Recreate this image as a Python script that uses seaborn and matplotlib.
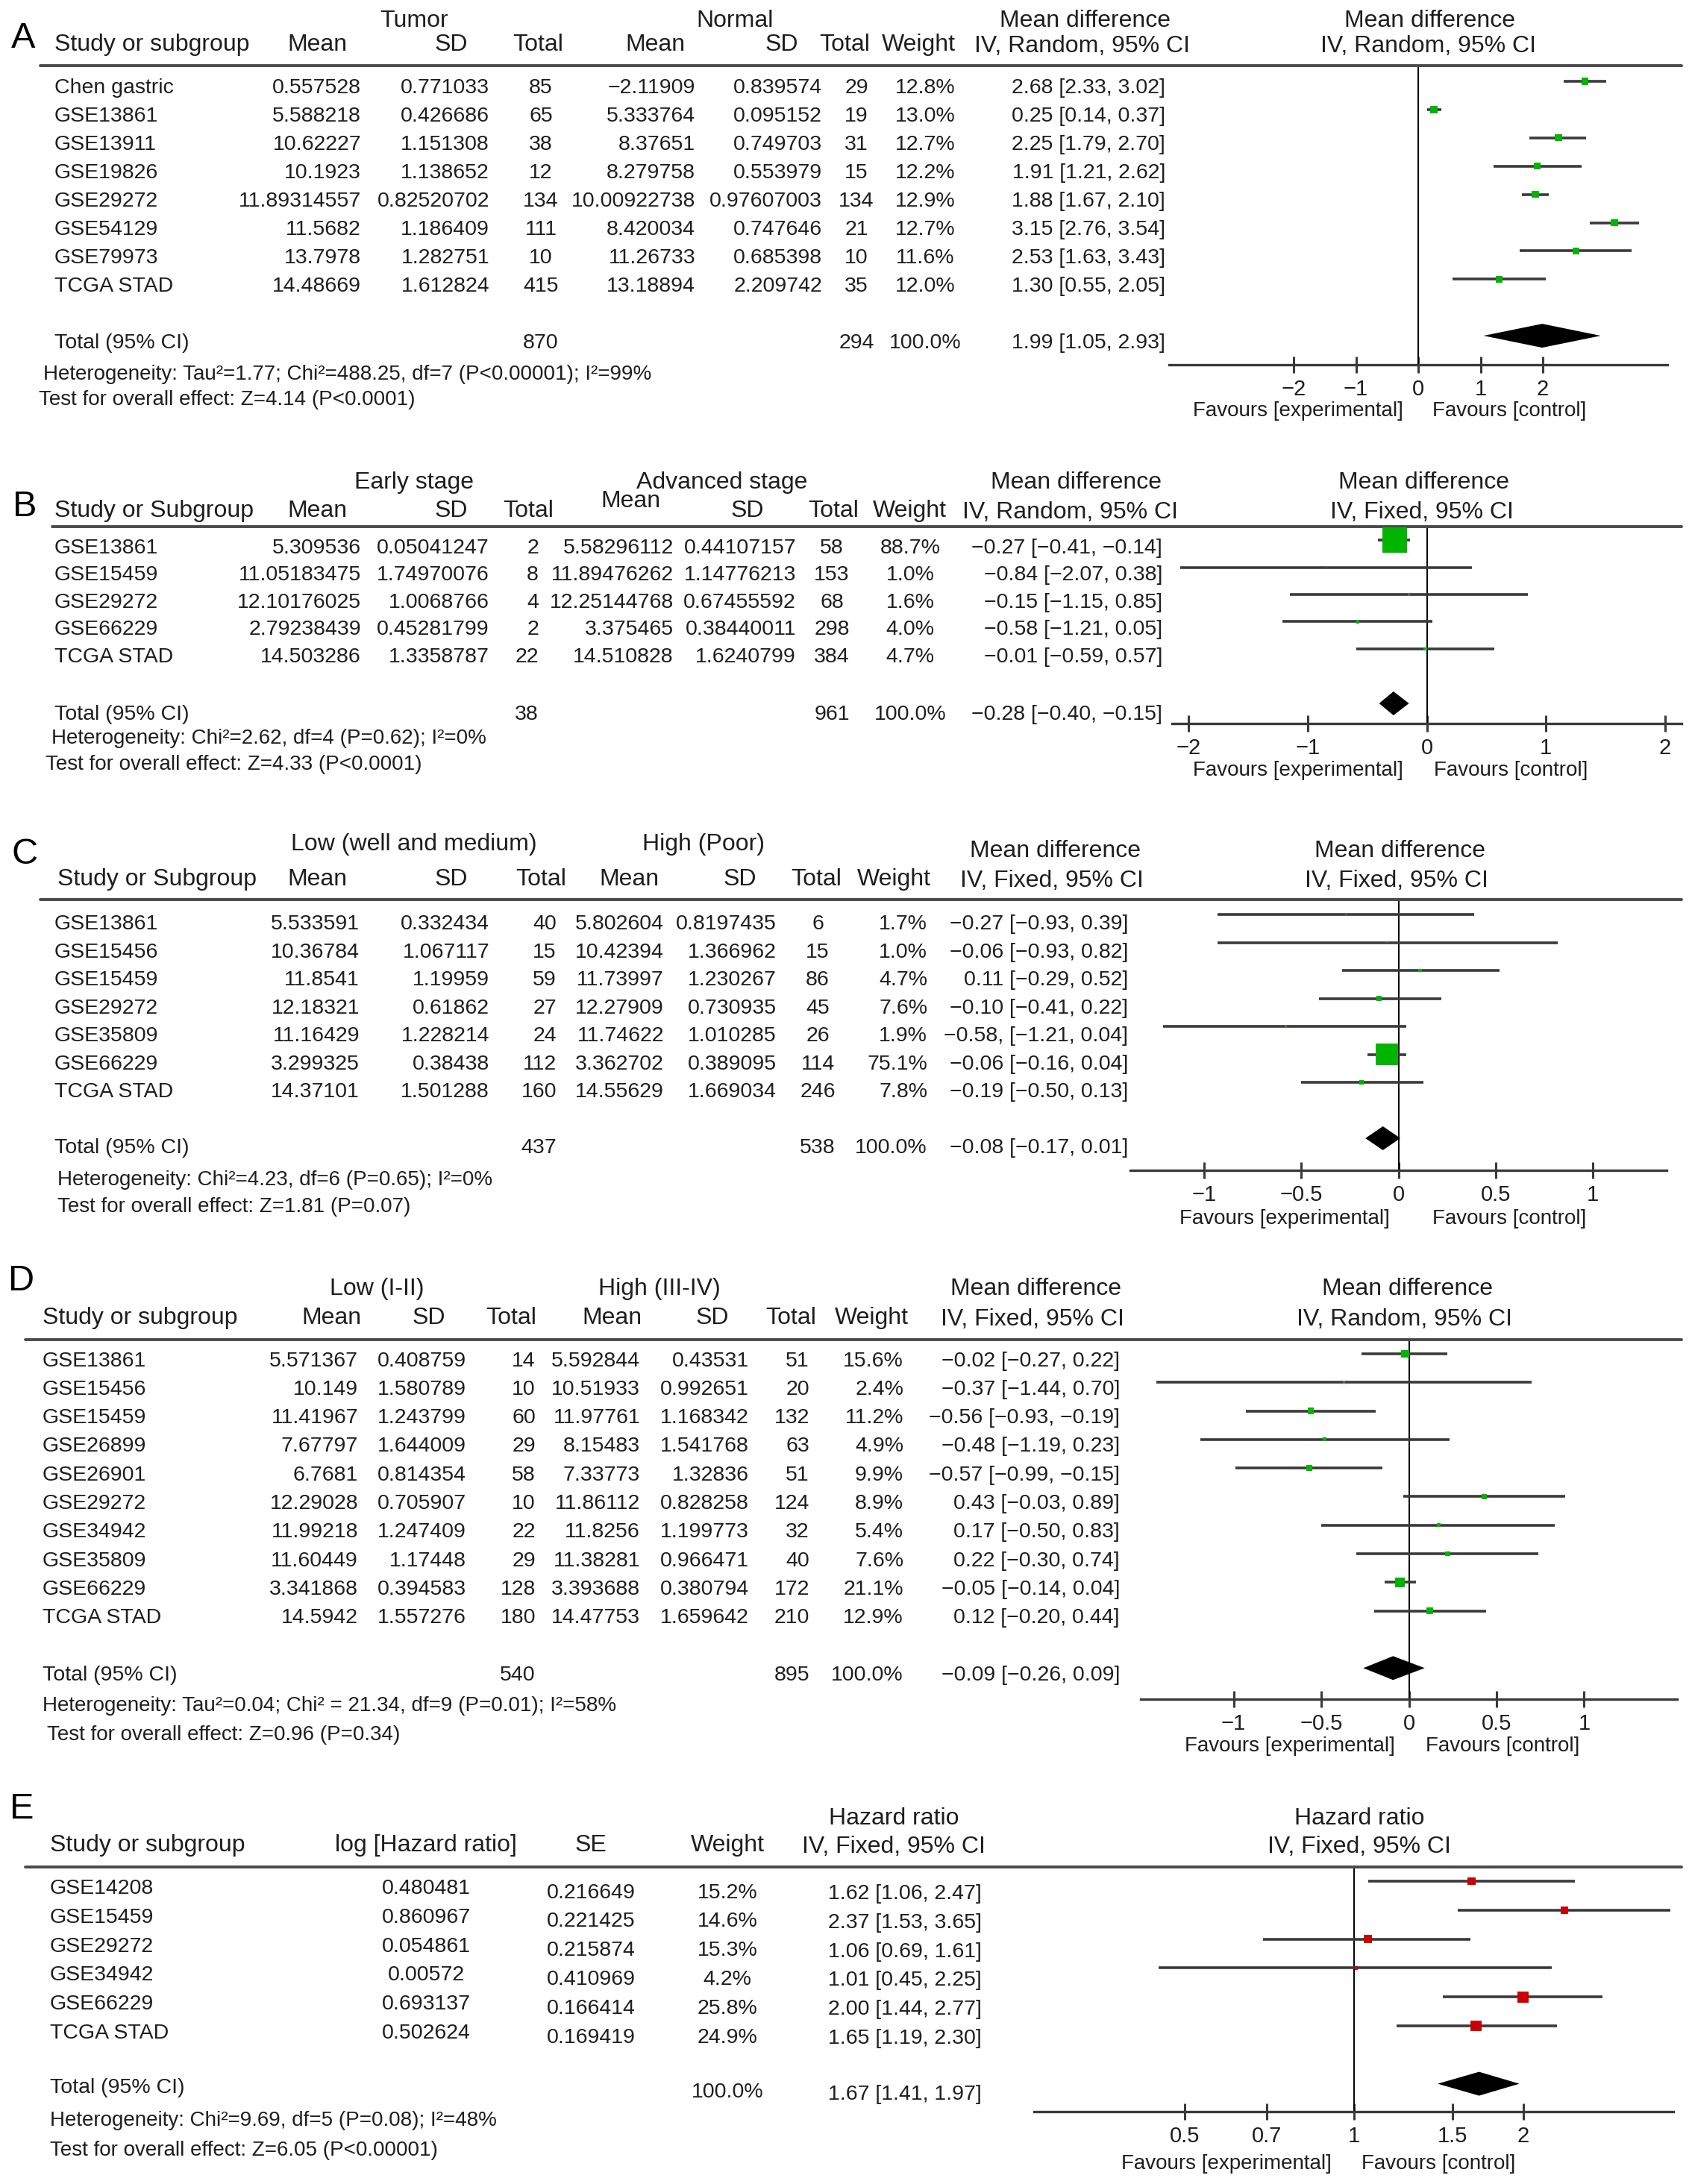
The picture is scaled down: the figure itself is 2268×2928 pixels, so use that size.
import matplotlib
matplotlib.use('Agg')
import matplotlib.pyplot as plt
import matplotlib.transforms as mtransforms
from matplotlib.ticker import FixedLocator, FixedFormatter, NullLocator
import seaborn as sns

sns.set_style('white')
plt.rcParams['font.family'] = ['Liberation Sans', 'DejaVu Sans']

W, H = 2268, 2928
INK = '#1e1e1e'
LINE = '#3a3a3a'
GREEN = '#00b400'
RED = '#cc0000'

# ---------------- Panel A: tumor vs normal ----------------
a_study = ['Chen gastric', 'GSE13861', 'GSE13911', 'GSE19826', 'GSE29272', 'GSE54129', 'GSE79973', 'TCGA STAD']
a_t_mean = [0.557528, 5.588218, 10.62227, 10.1923, 11.89314557, 11.5682, 13.7978, 14.48669]
a_t_sd = [0.771033, 0.426686, 1.151308, 1.138652, 0.82520702, 1.186409, 1.282751, 1.612824]
a_t_n = [85, 65, 38, 12, 134, 111, 10, 415]
a_n_mean = [-2.11909, 5.333764, 8.37651, 8.279758, 10.00922738, 8.420034, 11.26733, 13.18894]
a_n_sd = [0.839574, 0.095152, 0.749703, 0.553979, 0.97607003, 0.747646, 0.685398, 2.209742]
a_n_n = [29, 19, 31, 15, 134, 21, 10, 35]
a_weight = [12.8, 13.0, 12.7, 12.2, 12.9, 12.7, 11.6, 12.0]
a_md = [2.68, 0.25, 2.25, 1.91, 1.88, 3.15, 2.53, 1.30]
a_lo = [2.33, 0.14, 1.79, 1.21, 1.67, 2.76, 1.63, 0.55]
a_hi = [3.02, 0.37, 2.70, 2.62, 2.10, 3.54, 3.43, 2.05]
a_total = [1.99, 1.05, 2.93]
a_total_n = [870, 294]
a_het = 'Heterogeneity: Tau²=1.77; Chi²=488.25, df=7 (P<0.00001); I²=99%'
a_test = 'Test for overall effect: Z=4.14 (P<0.0001)'

# ---------------- Panel B: early vs advanced stage ----------------
b_study = ['GSE13861', 'GSE15459', 'GSE29272', 'GSE66229', 'TCGA STAD']
b_e_mean = [5.309536, 11.05183475, 12.10176025, 2.79238439, 14.503286]
b_e_sd = [0.05041247, 1.74970076, 1.0068766, 0.45281799, 1.3358787]
b_e_n = [2, 8, 4, 2, 22]
b_a_mean = [5.58296112, 11.89476262, 12.25144768, 3.375465, 14.510828]
b_a_sd = [0.44107157, 1.14776213, 0.67455592, 0.38440011, 1.6240799]
b_a_n = [58, 153, 68, 298, 384]
b_weight = [88.7, 1.0, 1.6, 4.0, 4.7]
b_md = [-0.27, -0.84, -0.15, -0.58, -0.01]
b_lo = [-0.41, -2.07, -1.15, -1.21, -0.59]
b_hi = [-0.14, 0.38, 0.85, 0.05, 0.57]
b_total = [-0.28, -0.40, -0.15]
b_total_n = [38, 961]
b_het = 'Heterogeneity: Chi²=2.62, df=4 (P=0.62); I²=0%'
b_test = 'Test for overall effect: Z=4.33 (P<0.0001)'

# ---------------- Panel C: differentiation ----------------
c_study = ['GSE13861', 'GSE15456', 'GSE15459', 'GSE29272', 'GSE35809', 'GSE66229', 'TCGA STAD']
c_l_mean = [5.533591, 10.36784, 11.8541, 12.18321, 11.16429, 3.299325, 14.37101]
c_l_sd = [0.332434, 1.067117, 1.19959, 0.61862, 1.228214, 0.38438, 1.501288]
c_l_n = [40, 15, 59, 27, 24, 112, 160]
c_h_mean = [5.802604, 10.42394, 11.73997, 12.27909, 11.74622, 3.362702, 14.55629]
c_h_sd = [0.8197435, 1.366962, 1.230267, 0.730935, 1.010285, 0.389095, 1.669034]
c_h_n = [6, 15, 86, 45, 26, 114, 246]
c_weight = [1.7, 1.0, 4.7, 7.6, 1.9, 75.1, 7.8]
c_md = [-0.27, -0.06, 0.11, -0.10, -0.58, -0.06, -0.19]
c_lo = [-0.93, -0.93, -0.29, -0.41, -1.21, -0.16, -0.50]
c_hi = [0.39, 0.82, 0.52, 0.22, 0.04, 0.04, 0.13]
c_sep = ['', '', '', '', ',', '', '']
c_total = [-0.08, -0.17, 0.01]
c_total_n = [437, 538]
c_het = 'Heterogeneity: Chi²=4.23, df=6 (P=0.65); I²=0%'
c_test = 'Test for overall effect: Z=1.81 (P=0.07)'

# ---------------- Panel D: TNM stage ----------------
d_study = ['GSE13861', 'GSE15456', 'GSE15459', 'GSE26899', 'GSE26901', 'GSE29272', 'GSE34942',
           'GSE35809', 'GSE66229', 'TCGA STAD']
d_l_mean = [5.571367, 10.149, 11.41967, 7.67797, 6.7681, 12.29028, 11.99218, 11.60449, 3.341868, 14.5942]
d_l_sd = [0.408759, 1.580789, 1.243799, 1.644009, 0.814354, 0.705907, 1.247409, 1.17448, 0.394583, 1.557276]
d_l_n = [14, 10, 60, 29, 58, 10, 22, 29, 128, 180]
d_h_mean = [5.592844, 10.51933, 11.97761, 8.15483, 7.33773, 11.86112, 11.8256, 11.38281, 3.393688, 14.47753]
d_h_sd = [0.43531, 0.992651, 1.168342, 1.541768, 1.32836, 0.828258, 1.199773, 0.966471, 0.380794, 1.659642]
d_h_n = [51, 20, 132, 63, 51, 124, 32, 40, 172, 210]
d_weight = [15.6, 2.4, 11.2, 4.9, 9.9, 8.9, 5.4, 7.6, 21.1, 12.9]
d_md = [-0.02, -0.37, -0.56, -0.48, -0.57, 0.43, 0.17, 0.22, -0.05, 0.12]
d_lo = [-0.27, -1.44, -0.93, -1.19, -0.99, -0.03, -0.50, -0.30, -0.14, -0.20]
d_hi = [0.22, 0.70, -0.19, 0.23, -0.15, 0.89, 0.83, 0.74, 0.04, 0.44]
d_total = [-0.09, -0.26, 0.09]
d_total_n = [540, 895]
d_het = 'Heterogeneity: Tau²=0.04; Chi² = 21.34, df=9 (P=0.01); I²=58%'
d_test = 'Test for overall effect: Z=0.96 (P=0.34)'

# ---------------- Panel E: hazard ratio ----------------
e_study = ['GSE14208', 'GSE15459', 'GSE29272', 'GSE34942', 'GSE66229', 'TCGA STAD']
e_loghr = [0.480481, 0.860967, 0.054861, 0.00572, 0.693137, 0.502624]
e_se = [0.216649, 0.221425, 0.215874, 0.410969, 0.166414, 0.169419]
e_weight = [15.2, 14.6, 15.3, 4.2, 25.8, 24.9]
e_hr = [1.62, 2.37, 1.06, 1.01, 2.00, 1.65]
e_lo = [1.06, 1.53, 0.69, 0.45, 1.44, 1.19]
e_hi = [2.47, 3.65, 1.61, 2.25, 2.77, 2.30]
e_total = [1.67, 1.41, 1.97]
e_het = 'Heterogeneity: Chi²=9.69, df=5 (P=0.08); I²=48%'
e_test = 'Test for overall effect: Z=6.05 (P<0.00001)'

md_ticks = [-2, -1, 0, 1, 2]
md_ticklabels = ['−2', '−1', '0', '1', '2']
small_ticks = [-1, -0.5, 0, 0.5, 1]
small_ticklabels = ['−1', '−0.5', '0', '0.5', '1']
hr_ticks = [0.5, 0.7, 1, 1.5, 2]
hr_ticklabels = ['0.5', '0.7', '1', '1.5', '2']

BODY = 20.5
HEAD = 23
NOTE = 20


def fx(px):
    return px / W


def fy(py):
    return 1 - py / H


def num(v):
    return str(v).replace('-', '−')


def f2(v):
    return f'{v:.2f}'.replace('-', '−')


def ci_text(m, lo, hi, sep=''):
    return f'{f2(m)}{sep} [{f2(lo)}, {f2(hi)}]'


def pct(w):
    return f'{w:.1f}%'


fig = plt.figure(figsize=(W / 100, H / 100), dpi=100)
fig.patch.set_facecolor('white')


def draw_panel(p):
    top, bottom, row0, pitch = p['top'], p['bottom'], p['row0'], p['pitch']
    ax = fig.add_axes([fx(p['xl']), fy(bottom), fx(p['xr']) - fx(p['xl']), (bottom - top) / H])
    ax.patch.set_alpha(0)
    y_top = (top - row0) / pitch
    y_bot = (bottom - row0) / pitch
    if p.get('log'):
        ax.set_xscale('log')
    ax.set_xlim(*p['xlim'])
    ax.set_ylim(y_bot, y_top)
    blend = mtransforms.blended_transform_factory(fig.transFigure, ax.transData)

    rows = list(range(len(p['est'])))
    # confidence intervals and weighted boxes
    ax.hlines(rows, p['lo'], p['hi'], color=LINE, lw=2.6, zorder=2)
    sizes = [(1.8 * w ** 0.65 * 0.72) ** 2 for w in p['w']]
    sns.scatterplot(x=p['est'], y=rows, s=sizes, marker='s', color=p['color'],
                    linewidth=0, ax=ax, legend=False, zorder=3)
    # pooled diamond
    m, lo, hi = p['total']
    r = p['total_row']
    h = 16 / pitch
    ax.fill([lo, m, hi, m], [r, r - h, r, r + h], color='black', zorder=3, lw=0)

    ax.axvline(p['null'], color='black', lw=1.4, zorder=1)
    ax.plot([fx(p['line_x0']), fx(2254)], [y_top, y_top], transform=blend, clip_on=False,
            color='#4a4a4a', lw=2.8)

    for s in ['left', 'right', 'top']:
        ax.spines[s].set_visible(False)
    ax.spines['bottom'].set_color(LINE)
    ax.spines['bottom'].set_linewidth(2.4)
    ax.set_yticks([])
    ax.xaxis.set_major_locator(FixedLocator(p['ticks']))
    ax.xaxis.set_major_formatter(FixedFormatter(p['ticklabels']))
    ax.xaxis.set_minor_locator(NullLocator())
    ax.tick_params(axis='x', direction='inout', length=16, width=2.2, color=LINE,
                   labelsize=21, labelcolor=INK, pad=6, bottom=True)
    ax.set_xlabel('')
    ax.set_ylabel('')

    # table body
    for values, x, ha, off in p['cols']:
        for i, s in enumerate(values):
            ax.text(fx(x), i + off, s, transform=blend, ha=ha, va='center', fontsize=BODY, color=INK)
    for s, x, ha, off in p['totals']:
        ax.text(fx(x), r + off, s, transform=blend, ha=ha, va='center', fontsize=BODY, color=INK)

    # headers, notes, favours labels
    lx, ly = p['letter']
    fig.text(fx(lx), fy(ly), p['name'], ha='left', va='center', fontsize=35, color='black')
    for s, x, y, ha in p['headers']:
        fig.text(fx(x), fy(y), s, ha=ha, va='center', fontsize=HEAD, color=INK)
    for s, x, y in p['notes']:
        fig.text(fx(x), fy(y), s, ha='left', va='center', fontsize=NOTE, color=INK)
    fvy = p['fav_y']
    fig.text(fx(p['fav_x'][0]), fy(fvy), 'Favours [experimental]', ha='right', va='center',
             fontsize=NOTE, color=INK)
    fig.text(fx(p['fav_x'][1]), fy(fvy), 'Favours [control]', ha='left', va='center',
             fontsize=NOTE, color=INK)


C, L, R = 'center', 'left', 'right'

panel_a = dict(
    name='A', letter=(15, 52), top=88, bottom=489, row0=109, pitch=37.9, line_x0=54,
    xl=1567, xr=2235, xlim=(-4, 4), ticks=md_ticks, ticklabels=md_ticklabels, null=0,
    est=a_md, lo=a_lo, hi=a_hi, w=a_weight, color=GREEN, total=a_total, total_row=9,
    headers=[('Tumor', 555, 28, C), ('Normal', 985, 28, C),
             ('Study or subgroup', 73, 60, L), ('Mean', 425, 60, C), ('SD', 627, 60, R),
             ('Total', 721, 60, C), ('Mean', 878, 60, C), ('SD', 1070, 60, R),
             ('Total', 1132, 60, C), ('Weight', 1231, 60, C),
             ('Mean difference', 1455, 28, C), ('IV, Random, 95% CI', 1451, 62, C),
             ('Mean difference', 1916, 28, C), ('IV, Random, 95% CI', 1914, 62, C)],
    cols=[(a_study, 73, L, 0.25), ([num(v) for v in a_t_mean], 484, R, 0.25),
          ([num(v) for v in a_t_sd], 656, R, 0.25), ([str(v) for v in a_t_n], 725, C, 0.25),
          ([num(v) for v in a_n_mean], 932, R, 0.25), ([num(v) for v in a_n_sd], 1102, R, 0.25),
          ([str(v) for v in a_n_n], 1148, C, 0.25), ([pct(v) for v in a_weight], 1240, C, 0.25),
          ([ci_text(*t) for t in zip(a_md, a_lo, a_hi)], 1562, R, 0.25)],
    totals=[('Total (95% CI)', 73, L, 0.25), (str(a_total_n[0]), 725, C, 0.25),
            (str(a_total_n[1]), 1148, C, 0.25), ('100.0%', 1240, C, 0.25),
            (ci_text(*a_total), 1562, R, 0.25)],
    notes=[(a_het, 58, 502), (a_test, 52, 536)], fav_y=551, fav_x=(1881, 1920))

panel_b = dict(
    name='B', letter=(17, 680), top=706, bottom=970, row0=724, pitch=36.5, line_x0=70,
    xl=1571, xr=2254, xlim=(-2.14, 2.14), ticks=md_ticks, ticklabels=md_ticklabels, null=0,
    est=b_md, lo=b_lo, hi=b_hi, w=b_weight, color=GREEN, total=b_total, total_row=6,
    headers=[('Early stage', 555, 647, C), ('Advanced stage', 968, 647, C),
             ('Study or Subgroup', 73, 685, L), ('Mean', 425, 685, C), ('SD', 627, 685, R),
             ('Total', 708, 685, C), ('Mean', 845, 672, C), ('SD', 1002, 685, C),
             ('Total', 1117, 685, C), ('Weight', 1219, 685, C),
             ('Mean difference', 1442, 647, C), ('IV, Random, 95% CI', 1435, 687, C),
             ('Mean difference', 1909, 647, C), ('IV, Fixed, 95% CI', 1906, 687, C)],
    cols=[(b_study, 73, L, 0.3), ([num(v) for v in b_e_mean], 484, R, 0.3),
          ([num(v) for v in b_e_sd], 656, R, 0.3), ([str(v) for v in b_e_n], 722, R, 0.3),
          ([num(v) for v in b_a_mean], 903, R, 0.3), ([num(v) for v in b_a_sd], 1067, R, 0.3),
          ([str(v) for v in b_a_n], 1115, C, 0.3), ([pct(v) for v in b_weight], 1220, C, 0.3),
          ([ci_text(*t) for t in zip(b_md, b_lo, b_hi)], 1558, R, 0.3)],
    totals=[('Total (95% CI)', 73, L, 0.4), (str(b_total_n[0]), 722, R, 0.4),
            (str(b_total_n[1]), 1115, C, 0.4), ('100.0%', 1220, C, 0.4),
            (ci_text(*b_total), 1558, R, 0.4)],
    notes=[(b_het, 69, 990), (b_test, 61, 1025)], fav_y=1033, fav_x=(1881, 1922))

panel_c = dict(
    name='C', letter=(15, 1146), top=1206, bottom=1569, row0=1226, pitch=37.5, line_x0=54,
    xl=1515, xr=2234, xlim=(-1.38, 1.38), ticks=small_ticks, ticklabels=small_ticklabels, null=0,
    est=c_md, lo=c_lo, hi=c_hi, w=c_weight, color=GREEN, total=c_total, total_row=8,
    headers=[('Low (well and medium)', 555, 1132, C), ('High (Poor)', 943, 1132, C),
             ('Study or Subgroup', 77, 1179, L), ('Mean', 425, 1179, C), ('SD', 627, 1179, R),
             ('Total', 725, 1179, C), ('Mean', 843, 1179, C), ('SD', 1014, 1179, R),
             ('Total', 1094, 1179, C), ('Weight', 1248, 1179, R),
             ('Mean difference', 1414, 1141, C), ('IV, Fixed, 95% CI', 1410, 1181, C),
             ('Mean difference', 1877, 1141, C), ('IV, Fixed, 95% CI', 1872, 1181, C)],
    cols=[(c_study, 73, L, 0.35), ([num(v) for v in c_l_mean], 482, R, 0.35),
          ([num(v) for v in c_l_sd], 656, R, 0.35), ([str(v) for v in c_l_n], 746, R, 0.35),
          ([num(v) for v in c_h_mean], 890, R, 0.35), ([num(v) for v in c_h_sd], 1041, R, 0.35),
          ([str(v) for v in c_h_n], 1096, C, 0.35), ([pct(v) for v in c_weight], 1243, R, 0.35),
          ([ci_text(*t) for t in zip(c_md, c_lo, c_hi, c_sep)], 1512, R, 0.35)],
    totals=[('Total (95% CI)', 73, L, 0.35), (str(c_total_n[0]), 746, R, 0.35),
            (str(c_total_n[1]), 1096, C, 0.35), ('100.0%', 1243, R, 0.35),
            (ci_text(*c_total), 1512, R, 0.35)],
    notes=[(c_het, 77, 1582), (c_test, 77, 1618)], fav_y=1634, fav_x=(1863, 1920))

panel_d = dict(
    name='D', letter=(11, 1717), top=1796, bottom=2278, row0=1815, pitch=38.3, line_x0=34,
    xl=1529, xr=2248, xlim=(-1.53, 1.53), ticks=small_ticks, ticklabels=small_ticklabels, null=0,
    est=d_md, lo=d_lo, hi=d_hi, w=d_weight, color=GREEN, total=d_total, total_row=11,
    headers=[('Low (I-II)', 505, 1728, C), ('High (III-IV)', 884, 1728, C),
             ('Study or subgroup', 57, 1767, L), ('Mean', 444, 1767, C), ('SD', 575, 1767, C),
             ('Total', 685, 1767, C), ('Mean', 820, 1767, C), ('SD', 955, 1767, C),
             ('Total', 1060, 1767, C), ('Weight', 1218, 1767, R),
             ('Mean difference', 1389, 1728, C), ('IV, Fixed, 95% CI', 1384, 1769, C),
             ('Mean difference', 1887, 1728, C), ('IV, Random, 95% CI', 1882, 1769, C)],
    cols=[(d_study, 57, L, 0.25), ([num(v) for v in d_l_mean], 480, R, 0.25),
          ([num(v) for v in d_l_sd], 625, R, 0.25), ([str(v) for v in d_l_n], 718, R, 0.25),
          ([num(v) for v in d_h_mean], 858, R, 0.25), ([num(v) for v in d_h_sd], 1004, R, 0.25),
          ([str(v) for v in d_h_n], 1085, R, 0.25), ([pct(v) for v in d_weight], 1211, R, 0.25),
          ([ci_text(*t) for t in zip(d_md, d_lo, d_hi)], 1501, R, 0.25)],
    totals=[('Total (95% CI)', 57, L, 0.25), (str(d_total_n[0]), 718, R, 0.25),
            (str(d_total_n[1]), 1085, R, 0.25), ('100.0%', 1211, R, 0.25),
            (ci_text(*d_total), 1501, R, 0.25)],
    notes=[(d_het, 57, 2287), (d_test, 63, 2326)], fav_y=2341, fav_x=(1870, 1911))

panel_e = dict(
    name='E', letter=(13, 2425), top=2503, bottom=2831, row0=2522, pitch=38.8, line_x0=34,
    xl=1386, xr=2243, xlim=(0.27, 3.7), log=True, ticks=hr_ticks, ticklabels=hr_ticklabels, null=1,
    est=e_hr, lo=e_lo, hi=e_hi, w=e_weight, color=RED, total=e_total, total_row=7,
    headers=[('Hazard ratio', 1198, 2438, C),
             ('Study or subgroup', 67, 2474, L), ('log [Hazard ratio]', 571, 2474, C),
             ('SE', 792, 2474, C), ('Weight', 975, 2474, C), ('IV, Fixed, 95% CI', 1198, 2476, C),
             ('Hazard ratio', 1822, 2438, C), ('IV, Fixed, 95% CI', 1822, 2476, C)],
    cols=[(e_study, 67, L, 0.26), ([num(v) for v in e_loghr], 571, C, 0.26),
          ([num(v) for v in e_se], 792, C, 0.4), ([pct(v) for v in e_weight], 975, C, 0.4),
          ([ci_text(*t) for t in zip(e_hr, e_lo, e_hi)], 1316, R, 0.44)],
    totals=[('Total (95% CI)', 67, L, 0.13), ('100.0%', 975, C, 0.3),
            (ci_text(*e_total), 1316, R, 0.36)],
    notes=[(e_het, 67, 2843), (e_test, 67, 2883)], fav_y=2901, fav_x=(1785, 1825))

for panel in [panel_a, panel_b, panel_c, panel_d, panel_e]:
    draw_panel(panel)

fig.savefig('out.png', dpi=100, facecolor='white')
